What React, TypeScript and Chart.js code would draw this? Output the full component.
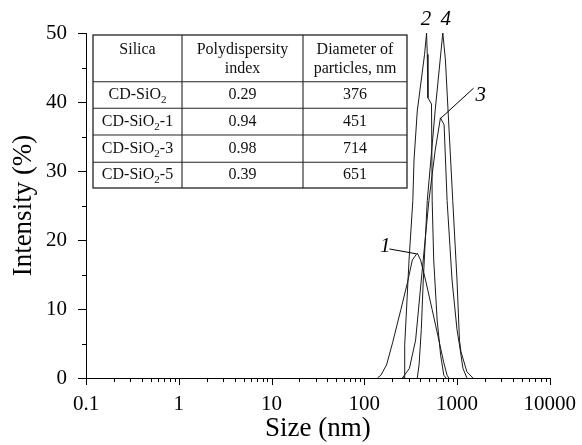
import React, { useEffect, useRef } from 'react';
import { Chart, registerables } from 'chart.js';

Chart.register(...registerables);

// ---- data ----
const curve1Size = [139, 151, 174, 202, 248, 292, 330, 373, 405, 458, 540, 637, 721, 782, 815];
const curve1Intensity = [0, 0.4, 1.9, 5.1, 9.9, 13.8, 17.1, 18.1, 17.1, 14.2, 9.9, 5.5, 2.2, 0.4, 0];

const curve2Size = [258, 273, 273, 304, 334, 344, 373, 447, 470, 478, 486, 531, 540, 561, 611, 666, 721, 763];
const curve2Intensity = [0, 0, 4.8, 17.1, 25.7, 31.6, 38.7, 46.9, 50, 46.9, 40.6, 39.7, 25.7, 17.1, 8.4, 3.3, 0.4, 0];

const curve3Size = [258, 307, 358, 412, 498, 582, 663, 726, 782, 884, 1000, 1063, 1159, 1279];
const curve3Intensity = [0, 1.4, 5.5, 14.2, 25.7, 33.0, 37.7, 36.7, 25.7, 14.2, 7.0, 4.8, 1.4, 0];

const curve4Size = [373, 390, 412, 433, 478, 582, 703, 750, 900, 1000, 1063, 1104, 1279, 1483];
const curve4Intensity = [0, 1.9, 7.0, 14.2, 25.7, 38.8, 50, 46.1, 25.7, 14.2, 5.5, 3.8, 0.9, 0];

const xTickValues = [0.1, 1, 10, 100, 1000, 10000];
const xTickLabels = ['0.1', '1', '10', '100', '1000', '10000'];
const yTickValues = [0, 10, 20, 30, 40, 50];

const tableHeader1 = ['Silica', 'Polydispersity', 'Diameter of'];
const tableHeader2 = ['', 'index', 'particles, nm'];
const silicaBase = 'CD-SiO';
const silicaSub = '2';
const silicaSuffix = ['', '-1', '-3', '-5'];
const pdiValues = ['0.29', '0.94', '0.98', '0.39'];
const diameterValues = ['376', '451', '714', '651'];

const curveLabels = ['1', '2', '3', '4'];

const SERIF = '"Liberation Serif", "Times New Roman", serif';

const decorPlugin = {
  id: 'decor',
  afterDraw(chart: any) {
    const ctx = chart.ctx as CanvasRenderingContext2D;
    const xs = chart.scales.x;
    const ys = chart.scales.y;
    const ca = chart.chartArea;
    ctx.save();
    ctx.strokeStyle = '#000';
    ctx.lineWidth = 1;

    // x ticks (major decades + minor)
    for (let d = 0; d < xTickValues.length; d++) {
      const dec = xTickValues[d];
      const px = Math.round(xs.getPixelForValue(dec)) + 0.5;
      ctx.beginPath();
      ctx.moveTo(px, ca.bottom);
      ctx.lineTo(px, ca.bottom + 7);
      ctx.stroke();
      if (d < xTickValues.length - 1) {
        for (let m = 2; m <= 9; m++) {
          const p = Math.round(xs.getPixelForValue(dec * m)) + 0.5;
          ctx.beginPath();
          ctx.moveTo(p, ca.bottom);
          ctx.lineTo(p, ca.bottom + 4);
          ctx.stroke();
        }
      }
    }
    // y ticks
    for (let v = 0; v <= 50; v += 5) {
      const py = Math.round(ys.getPixelForValue(v)) + 0.5;
      const len = v % 10 === 0 ? 8 : 4;
      ctx.beginPath();
      ctx.moveTo(ca.left, py);
      ctx.lineTo(ca.left - len, py);
      ctx.stroke();
    }

    // table
    const L = ca.left + 7;
    const T = ca.top + 2;
    const R = L + 314;
    const B = T + 153;
    const colX = [L, L + 89, L + 210, R];
    const rowY = [T, T + 46.7, T + 73.3, T + 100, T + 127.3, B];
    ctx.strokeStyle = '#222';
    ctx.lineWidth = 1.3;
    ctx.strokeRect(L, T, R - L, B - T);
    ctx.lineWidth = 1.1;
    for (let i = 1; i < rowY.length - 1; i++) {
      ctx.beginPath();
      ctx.moveTo(L, rowY[i]);
      ctx.lineTo(R, rowY[i]);
      ctx.stroke();
    }
    for (let i = 1; i < colX.length - 1; i++) {
      ctx.beginPath();
      ctx.moveTo(colX[i], T);
      ctx.lineTo(colX[i], B);
      ctx.stroke();
    }
    ctx.fillStyle = '#111';
    ctx.textAlign = 'center';
    ctx.textBaseline = 'middle';
    const FS = 16;
    ctx.font = `${FS}px ${SERIF}`;
    for (let c = 0; c < 3; c++) {
      const cx = (colX[c] + colX[c + 1]) / 2;
      ctx.fillText(tableHeader1[c], cx, T + 15);
      if (tableHeader2[c]) ctx.fillText(tableHeader2[c], cx, T + 34);
    }
    for (let r = 0; r < 4; r++) {
      const cy = (rowY[r + 1] + rowY[r + 2]) / 2;
      // silica name with subscript
      ctx.font = `${FS}px ${SERIF}`;
      const w1 = ctx.measureText(silicaBase).width;
      const w3 = ctx.measureText(silicaSuffix[r]).width;
      ctx.font = `11px ${SERIF}`;
      const w2 = ctx.measureText(silicaSub).width;
      const cx0 = (colX[0] + colX[1]) / 2;
      let sx = cx0 - (w1 + w2 + w3) / 2;
      ctx.textAlign = 'left';
      ctx.font = `${FS}px ${SERIF}`;
      ctx.fillText(silicaBase, sx, cy);
      sx += w1;
      ctx.font = `11px ${SERIF}`;
      ctx.fillText(silicaSub, sx, cy + 5);
      sx += w2;
      ctx.font = `${FS}px ${SERIF}`;
      ctx.fillText(silicaSuffix[r], sx, cy);
      ctx.textAlign = 'center';
      ctx.fillText(pdiValues[r], (colX[1] + colX[2]) / 2, cy);
      ctx.fillText(diameterValues[r], (colX[2] + colX[3]) / 2, cy);
    }

    // curve labels with leader lines (anchored in data space)
    const P = (x: number, y: number) => [xs.getPixelForValue(x), ys.getPixelForValue(y)];
    ctx.font = `italic 21px ${SERIF}`;
    ctx.fillStyle = '#000';
    ctx.textAlign = 'center';
    ctx.textBaseline = 'middle';
    const l1 = P(168, 19.0);
    ctx.fillText(curveLabels[0], l1[0], l1[1]);
    const l2 = P(462, 51.9);
    ctx.fillText(curveLabels[1], l2[0], l2[1]);
    const l3 = P(1800, 41.0);
    ctx.fillText(curveLabels[2], l3[0], l3[1]);
    const l4 = P(755, 51.9);
    ctx.fillText(curveLabels[3], l4[0], l4[1]);

    ctx.strokeStyle = '#000';
    ctx.lineWidth = 1;
    const a1 = P(187, 18.7), b1 = P(364, 18.0);
    ctx.beginPath(); ctx.moveTo(a1[0], a1[1]); ctx.lineTo(b1[0], b1[1]); ctx.stroke();
    const a3 = P(1508, 42.0), b3 = P(663, 37.6);
    ctx.beginPath(); ctx.moveTo(a3[0], a3[1]); ctx.lineTo(b3[0], b3[1]); ctx.stroke();
    ctx.restore();
  },
};

const toPoints = (sizes: number[], vals: number[]) => sizes.map((s, i) => ({ x: s, y: vals[i] }));

export default function App() {
  const ref = useRef<HTMLCanvasElement>(null);
  useEffect(() => {
    document.body.style.margin = '0';
    const canvas = ref.current;
    if (!canvas) return;
    const lineStyle = { borderColor: '#1a1a1a', borderWidth: 1, pointRadius: 0, tension: 0, fill: false };
    const chart = new Chart(canvas, {
      type: 'line',
      data: {
        datasets: [
          { label: '1', data: toPoints(curve1Size, curve1Intensity), ...lineStyle },
          { label: '2', data: toPoints(curve2Size, curve2Intensity), ...lineStyle },
          { label: '3', data: toPoints(curve3Size, curve3Intensity), ...lineStyle },
          { label: '4', data: toPoints(curve4Size, curve4Intensity), ...lineStyle },
        ],
      },
      options: {
        animation: false,
        responsive: false,
        maintainAspectRatio: false,
        layout: { padding: { top: 33, right: 28, left: 0, bottom: 0 } },
        plugins: { legend: { display: false }, tooltip: { enabled: false } },
        scales: {
          x: {
            type: 'logarithmic',
            min: 0.1,
            max: 10000,
            afterBuildTicks: (s: any) => {
              s.ticks = xTickValues.map((v) => ({ value: v }));
            },
            afterFit: (s: any) => {
              s.height = 67;
            },
            ticks: {
              autoSkip: false,
              maxRotation: 0,
              padding: 6,
              color: '#000',
              font: { family: SERIF, size: 21 },
              callback: (value: any) => {
                const i = xTickValues.findIndex((v) => Math.abs(v - Number(value)) < v * 1e-6);
                return i >= 0 ? xTickLabels[i] : '';
              },
            },
            grid: { display: false },
            border: { display: true, color: '#000', width: 1 },
            title: {
              display: true,
              text: 'Size (nm)',
              color: '#000',
              font: { family: SERIF, size: 27 },
              padding: { top: 0, bottom: 0 },
            },
          },
          y: {
            type: 'linear',
            min: 0,
            max: 50,
            afterBuildTicks: (s: any) => {
              s.ticks = yTickValues.map((v) => ({ value: v }));
            },
            afterFit: (s: any) => {
              s.width = 86;
            },
            ticks: {
              padding: 11,
              color: '#000',
              font: { family: SERIF, size: 21 },
            },
            grid: { display: false },
            border: { display: true, color: '#000', width: 1 },
            title: {
              display: true,
              text: 'Intensity (%)',
              color: '#000',
              font: { family: SERIF, size: 27 },
              padding: { top: 8, bottom: 0 },
            },
          },
        },
      },
      plugins: [decorPlugin],
    } as any);
    return () => chart.destroy();
  }, []);
  return (
    <div style={{ width: 582, height: 445, background: '#fff' }}>
      <canvas ref={ref} width={582} height={445} style={{ display: 'block' }} />
    </div>
  );
}
